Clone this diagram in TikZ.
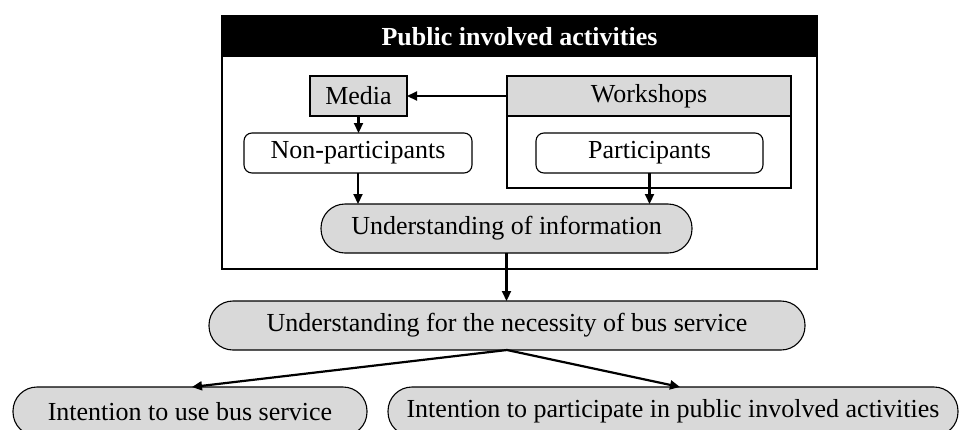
\documentclass[tikz,border=0pt]{standalone}
\usepackage{fontspec}
\setmainfont{Liberation Serif}
\usetikzlibrary{arrows.meta}
\definecolor{boxgray}{HTML}{D9D9D9}
\tikzset{
  base/.style={inner sep=0pt, outer sep=0pt, line width=1.1pt, font=\fontsize{26}{30}\selectfont},
  graybox/.style={base, draw, fill=boxgray},
  roundbox/.style={base, draw, fill=white, rounded corners=8pt, minimum height=40pt},
  pillbox/.style={base, draw, fill=boxgray, rounded corners=24pt, minimum height=49pt},
  arr/.style={line width=2.2pt, -{Triangle[length=10pt,width=9pt]}}
}
\begin{document}
\begin{tikzpicture}[x=1pt, y=-1pt]
\clip (0,0) rectangle (964,429);
% outer frame
\node[base, draw, line width=1.8pt, minimum width=595pt, minimum height=253pt, anchor=north west] (outer) at (222,16) {};
\node[base, fill=black, minimum width=595pt, minimum height=41pt, anchor=north west] (header) at (222,16) {};
\node[base, text=white, font=\fontsize{26}{30}\selectfont\bfseries] (title) at (519.5,36.5) {Public involved activities};
% workshops
\node[base, draw, minimum width=284pt, minimum height=112pt, anchor=north west] (wsbody) at (507,76) {};
\node[graybox, minimum width=284pt, minimum height=40pt] (ws) at (649,96) {Workshops};
\node[graybox, minimum width=97pt, minimum height=40pt] (media) at (358.5,96) {Media};
\node[roundbox, minimum width=228pt] (nonpart) at (358,153) {Non-participants};
\node[roundbox, minimum width=227pt] (part) at (649.5,153) {Participants};
\node[pillbox, minimum width=371pt] (uoi) at (506.5,228.5) {Understanding of information};
\node[pillbox, minimum width=596pt] (nec) at (507,325.5) {Understanding for the necessity of bus service};
\node[pillbox, minimum width=354pt] (lb) at (190,411.5) {Intention to use bus service};
\node[pillbox, minimum width=570pt] (rb) at (673,411.5) {Intention to participate in public involved activities};
% connectors
\draw[arr] (ws.west) -- (media.east);
\draw[arr] (media.south) -- (media.south |- nonpart.north);
\draw[arr] (nonpart.south) -- (nonpart.south |- uoi.north);
\draw[arr] (part.south) -- (part.south |- uoi.north);
\draw[arr] (uoi.south) -- (uoi.south |- nec.north);
\draw[arr] (nec.south) -- ([xshift=2pt]lb.north);
\draw[arr] (nec.south) -- ([xshift=7pt]rb.north);
\end{tikzpicture}
\end{document}
